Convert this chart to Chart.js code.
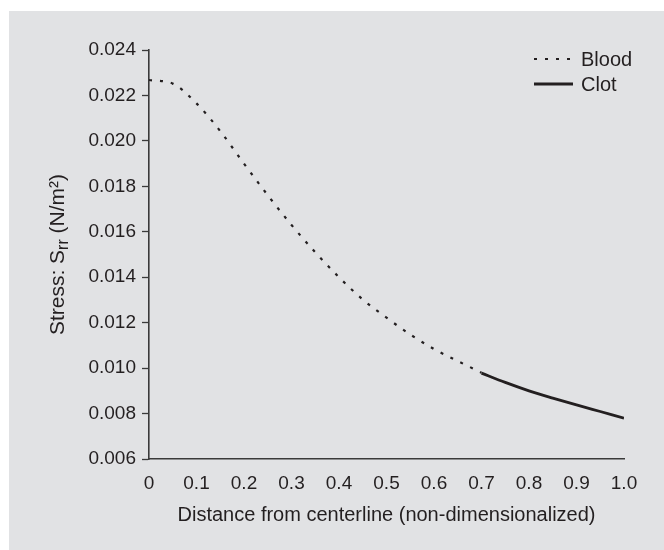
<!DOCTYPE html>
<html>
<head>
<meta charset="utf-8">
<script src="https://cdn.jsdelivr.net/npm/chart.js@4"></script>
<style>
  html, body { margin: 0; padding: 0; background: #fff; }
  #wrap { width: 664px; height: 550px; }
</style>
</head>
<body>
<div id="wrap"><canvas id="grafica"></canvas></div>
<script>
// distancia desde la linea central (adimensional)
const xSangre = [0, 0.05, 0.1, 0.15, 0.2, 0.25, 0.3, 0.35, 0.4, 0.45, 0.5, 0.55, 0.6, 0.65, 0.7];
const ySangre = [0.02268, 0.02252, 0.02165, 0.02043, 0.01900, 0.01761, 0.01630, 0.01510, 0.01400, 0.01302, 0.01222, 0.01148, 0.01084, 0.01031, 0.00980];

const xCoagulo = [0.7, 0.75, 0.8, 0.85, 0.9, 0.95, 1.0];
const yCoagulo = [0.00978, 0.00937, 0.00900, 0.00868, 0.00838, 0.00809, 0.00780];

const etiquetas = ['Blood', 'Clot'];
const tituloX = 'Distance from centerline (non-dimensionalized)';
// titulo Y en partes para poder bajar el subindice "rr"
const tituloY = [['Stress: S', 0], ['rr', 1], [' (N/m\u00B2)', 0]];

const colorTinta = '#231f20';
const fuente = "'Liberation Sans', Arial, sans-serif";

const aPuntos = (xs, ys) => xs.map((x, i) => ({ x: x, y: ys[i] }));

// fondo gris del panel
const fondo = {
    id: 'fondo',
    beforeDraw(chart) {
        const ctx = chart.ctx;
        ctx.save();
        ctx.fillStyle = '#e1e2e4';
        ctx.fillRect(9, 11, chart.width - 9, chart.height - 11);
        ctx.restore();
    }
};

// titulo del eje Y con subindice
const tituloEjeY = {
    id: 'tituloEjeY',
    afterDraw(chart) {
        const ctx = chart.ctx;
        const area = chart.chartArea;
        const normal = '21px ' + fuente;
        const chica = '16px ' + fuente;
        ctx.save();
        let total = 0;
        tituloY.forEach(([t, sub]) => {
            ctx.font = sub ? chica : normal;
            total += ctx.measureText(t).width;
        });
        ctx.translate(58, (area.top + area.bottom) / 2);
        ctx.rotate(-Math.PI / 2);
        ctx.fillStyle = colorTinta;
        ctx.textBaseline = 'middle';
        let x = -total / 2;
        tituloY.forEach(([t, sub]) => {
            ctx.font = sub ? chica : normal;
            ctx.fillText(t, x, sub ? 6 : 0);
            x += ctx.measureText(t).width;
        });
        ctx.restore();
    }
};

// leyenda dentro del area, arriba a la derecha
const leyenda = {
    id: 'leyenda',
    afterDraw(chart) {
        const ctx = chart.ctx;
        const area = chart.chartArea;
        const x0 = area.right - 90;
        const x1 = area.right - 51;
        ctx.save();
        ctx.font = '20px ' + fuente;
        ctx.textBaseline = 'middle';
        chart.data.datasets.forEach((ds, i) => {
            const y = area.top + 9 + i * 25;
            ctx.strokeStyle = ds.borderColor;
            ctx.lineWidth = ds.borderWidth;
            ctx.setLineDash(ds.borderDash || []);
            ctx.beginPath();
            ctx.moveTo(x0, y);
            ctx.lineTo(x1, y);
            ctx.stroke();
            ctx.setLineDash([]);
            ctx.fillStyle = colorTinta;
            ctx.fillText(ds.label, area.right - 43, y + 1);
        });
        ctx.restore();
    }
};

new Chart(document.getElementById('grafica'), {
    type: 'line',
    data: {
        datasets: [{
            label: etiquetas[0],
            data: aPuntos(xSangre, ySangre),
            borderColor: colorTinta,
            borderWidth: 2.2,
            borderDash: [3, 8],
            pointRadius: 0,
            cubicInterpolationMode: 'monotone'
        }, {
            label: etiquetas[1],
            data: aPuntos(xCoagulo, yCoagulo),
            borderColor: colorTinta,
            borderWidth: 2.8,
            pointRadius: 0,
            cubicInterpolationMode: 'monotone'
        }]
    },
    options: {
        responsive: true,
        maintainAspectRatio: false,
        animation: false,
        layout: { padding: { left: 43, top: 50, right: 40, bottom: 19 } },
        plugins: {
            legend: { display: false },
            tooltip: { enabled: false }
        },
        scales: {
            x: {
                type: 'linear',
                min: 0,
                max: 1,
                afterFit: (s) => { s.height = 72; },
                grid: { display: false, drawOnChartArea: false, tickLength: 7, color: '#3a3a3a', tickWidth: 1.3 },
                border: { color: '#3a3a3a', width: 1.6 },
                ticks: {
                    stepSize: 0.1,
                    padding: 6,
                    color: colorTinta,
                    font: { family: fuente, size: 19 },
                    callback: (v) => v === 0 ? '0' : v.toFixed(1)
                },
                title: {
                    display: true,
                    text: tituloX,
                    color: colorTinta,
                    font: { family: fuente, size: 20 }
                }
            },
            y: {
                min: 0.006,
                max: 0.024,
                afterFit: (s) => { s.width = 106; },
                grid: { display: true, drawOnChartArea: false, tickLength: 7, color: '#3a3a3a', tickWidth: 1.3 },
                border: { color: '#3a3a3a', width: 1.6 },
                ticks: {
                    stepSize: 0.002,
                    padding: 6,
                    color: colorTinta,
                    font: { family: fuente, size: 19 },
                    callback: (v) => v.toFixed(3)
                },
                title: { display: false }
            }
        }
    },
    plugins: [fondo, tituloEjeY, leyenda]
});
</script>
</body>
</html>
